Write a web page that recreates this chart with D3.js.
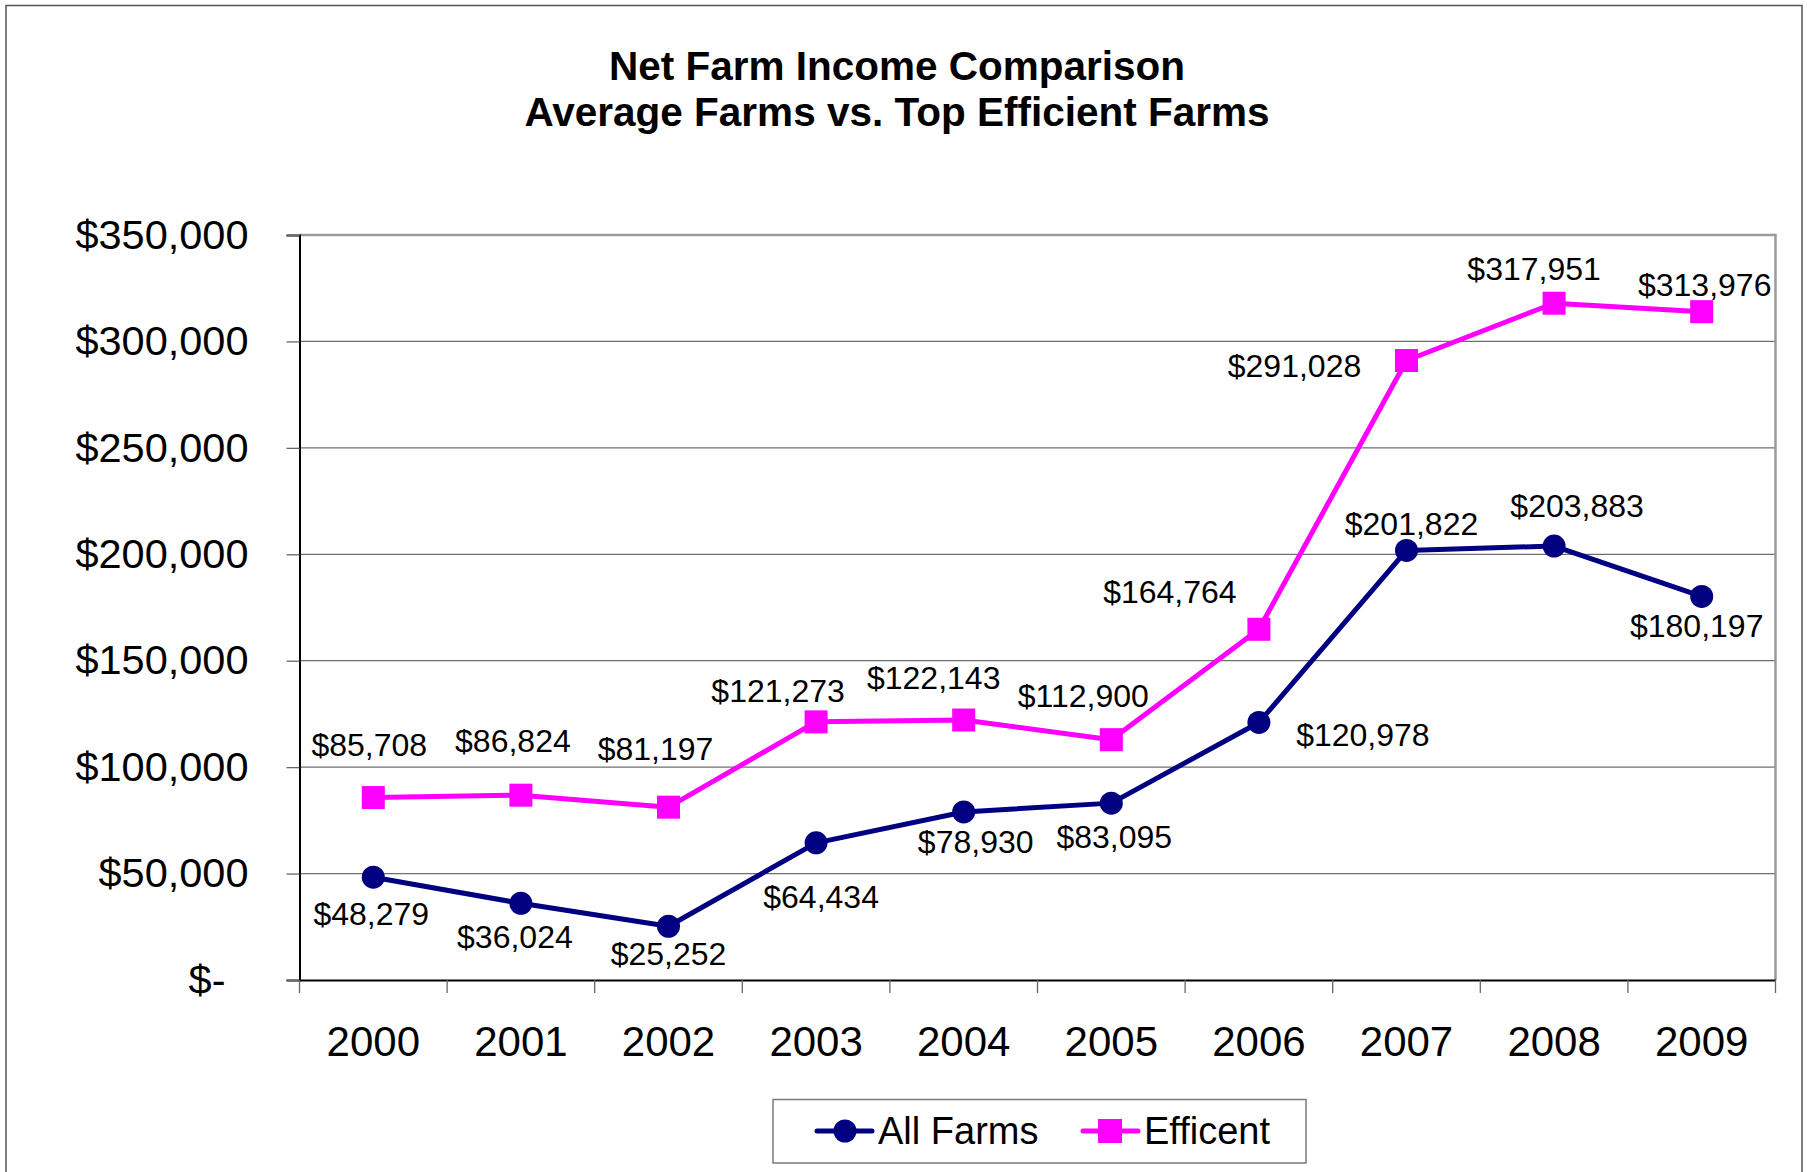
<!DOCTYPE html>
<html>
<head>
<meta charset="utf-8">
<script src="https://cdn.jsdelivr.net/npm/d3@7"></script>
<style>
  html, body { margin: 0; padding: 0; background: #fff; }
  svg { display: block; font-family: "Liberation Sans", Arial, sans-serif; }
</style>
</head>
<body>
<svg id="chart" width="1807" height="1172"></svg>
<script>
// Net farm income by year
const years = ["2000", "2001", "2002", "2003", "2004", "2005", "2006", "2007", "2008", "2009"];
const allFarms = [48279, 36024, 25252, 64434, 78930, 83095, 120978, 201822, 203883, 180197];
const efficient = [85708, 86824, 81197, 121273, 122143, 112900, 164764, 291028, 317951, 313976];
const yTicks = [0, 50000, 100000, 150000, 200000, 250000, 300000, 350000];
const seriesNames = ["All Farms", "Efficent"];
const titleLines = ["Net Farm Income Comparison", "Average Farms vs. Top Efficient Farms"];

// Hand-placed value label offsets (dx from point centre, dy to text baseline)
const allFarmsLabelOffsets = [[-2, 48], [-6, 45], [0, 39], [5, 65], [12, 41], [3, 45], [104, 24], [5, -15], [23, -29], [-5, 41]];
const efficientLabelOffsets = [[-4, -42], [-8, -43], [-13, -47], [-38, -20], [-30, -31], [-28, -33], [-89, -26], [-112, 16], [-20, -23], [3, -16]];

const svg = d3.select("#chart");
const W = 1807, H = 1172;
const plot = { left: 299.5, right: 1775.5, top: 235, bottom: 980 };

const NAVY = "#000080", MAGENTA = "#FF00FF";
const fmt = v => v === 0 ? "$-" : "$" + d3.format(",")(v);

// Outer chart frame
svg.append("rect")
  .attr("x", 6).attr("y", 5.5)
  .attr("width", 1796).attr("height", H + 20)
  .attr("fill", "#fff").attr("stroke", "#555").attr("stroke-width", 1.5);

// Title
const title = svg.append("text")
  .attr("x", 897).attr("text-anchor", "middle")
  .attr("font-weight", "bold").attr("font-size", 40.5).attr("fill", "#000");
title.selectAll("tspan").data(titleLines).join("tspan")
  .attr("x", 897).attr("y", (d, i) => 80 + i * 46).text(d => d);

// Scales
const x = d3.scaleBand().domain(years).range([plot.left, plot.right]).padding(0);
const y = d3.scaleLinear().domain([0, 350000]).range([plot.bottom, plot.top]);
const cx = d => x(d) + x.bandwidth() / 2;

// Horizontal gridlines
svg.append("g").selectAll("line")
  .data(yTicks.filter(t => t > 0 && t < 350000)).join("line")
  .attr("x1", plot.left).attr("x2", plot.right)
  .attr("y1", d => y(d)).attr("y2", d => y(d))
  .attr("stroke", "#6f6f6f").attr("stroke-width", 1.3);

// Plot area border (top and right)
svg.append("path")
  .attr("d", `M${plot.left},${plot.top}H${plot.right}V${plot.bottom}`)
  .attr("fill", "none").attr("stroke", "#9a9a9a").attr("stroke-width", 2.5);

// Y axis
const yAxis = svg.append("g")
  .attr("transform", `translate(${plot.left},0)`)
  .call(d3.axisLeft(y).tickValues(yTicks).tickFormat(fmt).tickSize(13).tickPadding(38));
yAxis.select(".domain").attr("stroke", "#000").attr("stroke-width", 2);
yAxis.selectAll(".tick line").attr("stroke", "#666").attr("stroke-width", 1.3);
yAxis.selectAll(".tick text")
  .attr("font-size", 41.5).attr("fill", "#000")
  .attr("font-family", "Liberation Sans, Arial, sans-serif")
  .attr("dx", d => d === 0 ? -23 : 0);

// X axis with ticks on category boundaries
const xAxis = svg.append("g")
  .attr("transform", `translate(0,${plot.bottom})`)
  .call(d3.axisBottom(x).tickSize(0).tickPadding(46));
xAxis.select(".domain").attr("stroke", "#000").attr("stroke-width", 2);
xAxis.selectAll(".tick text")
  .attr("font-size", 42).attr("fill", "#000")
  .attr("font-family", "Liberation Sans, Arial, sans-serif");
const bounds = years.map(d => x(d)).concat([plot.right]);
xAxis.append("g").selectAll("line").data(bounds).join("line")
  .attr("x1", d => d).attr("x2", d => d)
  .attr("y1", 0).attr("y2", 13)
  .attr("stroke", "#666").attr("stroke-width", 1.3);

// Series lines
const line = d3.line().x((d, i) => cx(years[i])).y(d => y(d));
svg.append("path").datum(efficient).attr("d", line)
  .attr("fill", "none").attr("stroke", MAGENTA).attr("stroke-width", 5).attr("stroke-linejoin", "round");
svg.append("path").datum(allFarms).attr("d", line)
  .attr("fill", "none").attr("stroke", NAVY).attr("stroke-width", 5).attr("stroke-linejoin", "round");

// Markers
const SQ = 23;
svg.append("g").selectAll("rect").data(efficient).join("rect")
  .attr("x", (d, i) => cx(years[i]) - SQ / 2).attr("y", d => y(d) - SQ / 2)
  .attr("width", SQ).attr("height", SQ).attr("fill", MAGENTA);
svg.append("g").selectAll("circle").data(allFarms).join("circle")
  .attr("cx", (d, i) => cx(years[i])).attr("cy", d => y(d))
  .attr("r", 11.5).attr("fill", NAVY);

// Value labels
function valueLabels(values, offsets) {
  svg.append("g").selectAll("text").data(values).join("text")
    .attr("x", (d, i) => cx(years[i]) + offsets[i][0])
    .attr("y", (d, i) => y(d) + offsets[i][1])
    .attr("text-anchor", "middle").attr("font-size", 32).attr("fill", "#000")
    .text(fmt);
}
valueLabels(allFarms, allFarmsLabelOffsets);
valueLabels(efficient, efficientLabelOffsets);

// Legend
const legend = svg.append("g");
legend.append("rect")
  .attr("x", 773).attr("y", 1099.5).attr("width", 533).attr("height", 63.5)
  .attr("fill", "#fff").attr("stroke", "#7a7a7a").attr("stroke-width", 1.5);
const legendItems = [
  { name: seriesNames[0], color: NAVY, shape: "circle", x0: 817 },
  { name: seriesNames[1], color: MAGENTA, shape: "square", x0: 1083 }
];
const LY = 1131;
legendItems.forEach(it => {
  legend.append("line")
    .attr("x1", it.x0).attr("x2", it.x0 + 55).attr("y1", LY).attr("y2", LY)
    .attr("stroke", it.color).attr("stroke-width", 5).attr("stroke-linecap", "round");
  if (it.shape === "circle") {
    legend.append("circle").attr("cx", it.x0 + 28).attr("cy", LY).attr("r", 11.5).attr("fill", it.color);
  } else {
    legend.append("rect").attr("x", it.x0 + 27 - 12).attr("y", LY - 12)
      .attr("width", 24).attr("height", 24).attr("fill", it.color);
  }
  legend.append("text")
    .attr("x", it.x0 + 61).attr("y", 1144)
    .attr("font-size", 38).attr("fill", "#000").text(it.name);
});
</script>
</body>
</html>
